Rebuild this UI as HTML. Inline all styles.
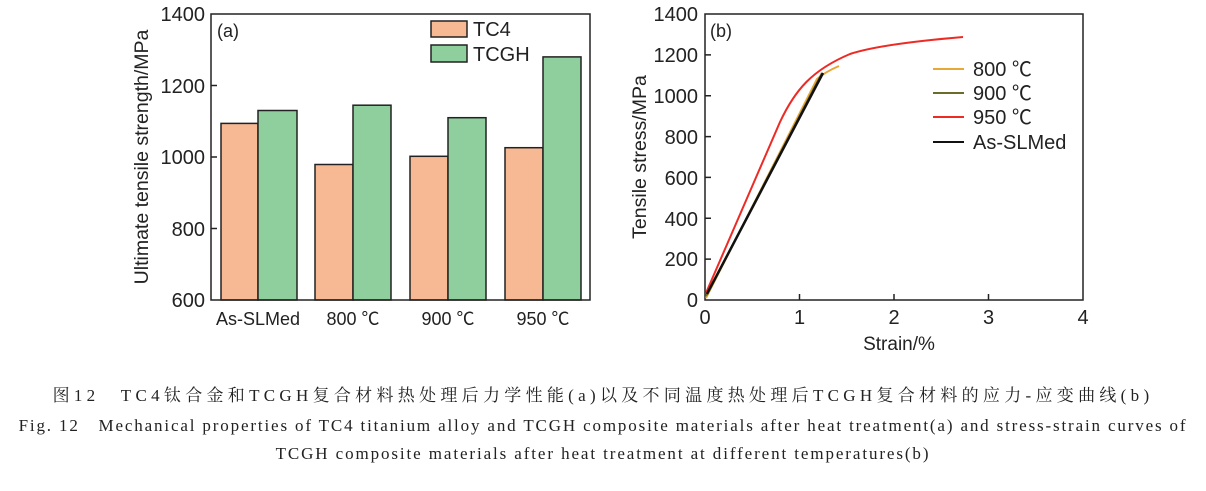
<!DOCTYPE html>
<html><head><meta charset="utf-8"><style>
body{margin:0;background:#fff;width:1206px;height:491px;overflow:hidden}
svg{position:absolute;left:0;top:0}
.cap{position:absolute;left:0;width:1206px;text-align:center;font-family:"Liberation Serif","Noto Serif CJK SC",serif;font-size:17px;color:#222;white-space:nowrap}
</style></head><body>
<svg width="1206" height="491" font-family="Liberation Sans, Noto Sans CJK SC, sans-serif" fill="#222">
<g stroke="#222" stroke-width="1.5">
<rect x="221" y="123.4" width="37" height="176.6" fill="#f6b994"/>
<rect x="258" y="110.5" width="39" height="189.5" fill="#8ecf9d"/>
<rect x="315" y="164.5" width="38" height="135.5" fill="#f6b994"/>
<rect x="353" y="105.2" width="38" height="194.8" fill="#8ecf9d"/>
<rect x="410" y="156.3" width="38" height="143.7" fill="#f6b994"/>
<rect x="448" y="117.7" width="38" height="182.3" fill="#8ecf9d"/>
<rect x="505" y="147.7" width="38" height="152.3" fill="#f6b994"/>
<rect x="543" y="56.9" width="38" height="243.1" fill="#8ecf9d"/>
<rect x="211" y="14" width="379" height="286" fill="none"/>
<path d="M211 228.5h6M211 157h6M211 85.5h6" />
<rect x="431" y="21" width="36" height="16" fill="#f6b994"/>
<rect x="431" y="45" width="36" height="17" fill="#8ecf9d"/>
</g>
<g font-size="20" text-anchor="end">
<text x="205" y="21">1400</text><text x="205" y="93">1200</text><text x="205" y="164">1000</text><text x="205" y="236">800</text><text x="205" y="307">600</text>
</g>
<g font-size="18" text-anchor="middle">
<text x="258" y="325">As-SLMed</text><text x="353" y="325">800 ℃</text><text x="448" y="325">900 ℃</text><text x="543" y="325">950 ℃</text>
</g>
<text x="217" y="37" font-size="18">(a)</text>
<text x="473" y="36" font-size="20">TC4</text>
<text x="473" y="61" font-size="20">TCGH</text>
<text transform="translate(148,157) rotate(-90)" font-size="19.5" text-anchor="middle">Ultimate tensile strength/MPa</text>

<g stroke="#222" stroke-width="1.5" fill="none">
<rect x="705" y="14" width="378" height="286"/>
<path d="M799.5 300v-6M894 300v-6M988.5 300v-6M705 259.1h6M705 218.3h6M705 177.4h6M705 136.6h6M705 95.7h6M705 54.9h6"/>
</g>
<g fill="none" stroke-width="2">
<path d="M706 298 L817 79 Q825 72 839 66" stroke="#e8a838"/>
<path d="M706 296 L822 73" stroke="#6b6b2a"/>
<path d="M706 293 L780 122 C795 90 812 70 850 54 Q880 44 963 37" stroke="#ee2a24"/>
<path d="M707 294 L823 73" stroke="#111" stroke-width="2.5"/>
<path d="M933 69h31" stroke="#e8a838"/><path d="M933 93h31" stroke="#6b6b2a"/><path d="M933 117h31" stroke="#ee2a24"/><path d="M933 142h31" stroke="#111"/>
</g>
<g font-size="20" text-anchor="end">
<text x="698" y="21">1400</text><text x="698" y="62">1200</text><text x="698" y="103">1000</text><text x="698" y="144">800</text><text x="698" y="185">600</text><text x="698" y="226">400</text><text x="698" y="266">200</text><text x="698" y="307">0</text>
</g>
<g font-size="20" text-anchor="middle">
<text x="705" y="324">0</text><text x="799.5" y="324">1</text><text x="894" y="324">2</text><text x="988.5" y="324">3</text><text x="1083" y="324">4</text>
</g>
<text x="899" y="350" font-size="19" text-anchor="middle">Strain/%</text>
<text x="710" y="37" font-size="18">(b)</text>
<g font-size="20"><text x="973" y="76">800 ℃</text><text x="973" y="100">900 ℃</text><text x="973" y="124">950 ℃</text><text x="973" y="149">As-SLMed</text></g>
<text transform="translate(646,157) rotate(-90)" font-size="19.5" text-anchor="middle">Tensile stress/MPa</text>
</svg>
<div class="cap" style="top:381px;letter-spacing:4.3px">图12　TC4钛合金和TCGH复合材料热处理后力学性能(a)以及不同温度热处理后TCGH复合材料的应力-应变曲线(b)</div>
<div class="cap" style="top:411px;letter-spacing:1.85px">Fig. 12　Mechanical properties of TC4 titanium alloy and TCGH composite materials after heat treatment(a) and stress-strain curves of</div>
<div class="cap" style="top:444px;letter-spacing:1.9px">TCGH composite materials after heat treatment at different temperatures(b)</div>
</body></html>
